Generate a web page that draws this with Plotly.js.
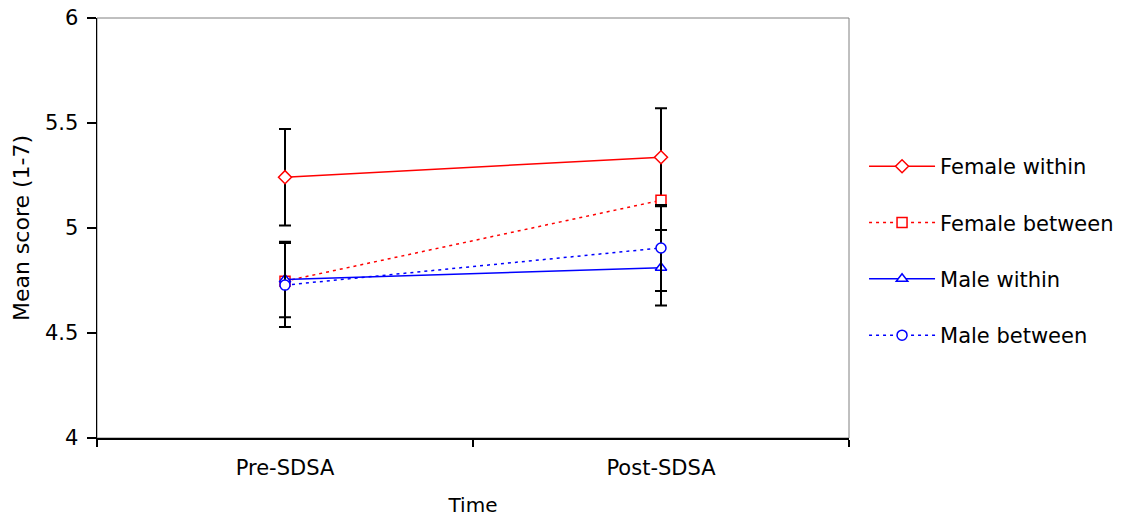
<!DOCTYPE html>
<html>
<head>
<meta charset="utf-8">
<script src="https://cdn.plot.ly/plotly-3.0.1.min.js"></script>
<style>html,body{margin:0;padding:0;background:#fff;}#chart{width:1124px;height:517px;}</style>
</head>
<body>
<div id="chart"></div>
<script>
const categories = ["Pre-SDSA", "Post-SDSA"];
const seriesNames = ["Female within", "Female between", "Male within", "Male between"];
const femaleWithin = [5.242, 5.337];
const femaleBetween = [4.747, 5.132];
const maleWithin = [4.755, 4.811];
const maleBetween = [4.728, 4.905];
const femaleWithinErr = [0.23, 0.233];
const maleWithinErr = [0.18, 0.18];
const maleBetweenErr = [0.2, 0.205];

const FONT = "DejaVu Sans, Verdana, sans-serif";

function tr(name, y, color, dash, symbol, err, group) {
  const t = {
    type: "scatter", mode: "lines+markers", name: name, x: categories, y: y,
    legendgroup: group,
    line: {color: color, width: 1.5, dash: dash},
    marker: {symbol: symbol, size: 10, color: "#ffffff", line: {color: color, width: 1.5}},
    cliponaxis: false
  };
  if (err) {
    t.error_y = {type: "data", array: err, visible: true, color: "#000000", thickness: 2, width: 6};
  }
  return t;
}

const data = [
  tr(seriesNames[0], femaleWithin, "#ff0000", "solid", "diamond", femaleWithinErr, "a"),
  tr(seriesNames[1], femaleBetween, "#ff0000", "3px,4px", "square", null, "b"),
  tr(seriesNames[2], maleWithin, "#0000ff", "solid", "triangle-up", maleWithinErr, "c"),
  tr(seriesNames[3], maleBetween, "#0000ff", "3px,4px", "circle", maleBetweenErr, "d")
];

const layout = {
  width: 1124, height: 517,
  margin: {l: 97, r: 275, t: 18, b: 79, autoexpand: false},
  paper_bgcolor: "#ffffff", plot_bgcolor: "#ffffff",
  font: {family: FONT, size: 20, color: "#000000"},
  showlegend: true,
  legend: {
    x: 1.02, xanchor: "left", y: 0.445, yanchor: "middle",
    tracegroupgap: 26, font: {family: FONT, size: 21, color: "#000000"},
    bgcolor: "rgba(0,0,0,0)", itemwidth: 66
  },
  xaxis: {
    type: "category", range: [-0.5, 1.5],
    showline: true, linecolor: "#000000", linewidth: 1.5,
    ticks: "outside", tickson: "boundaries", ticklen: 7, tickcolor: "#000000", tickwidth: 1.5,
    showgrid: false, zeroline: false, ticklabelstandoff: 10,
    tickfont: {family: FONT, size: 21},
    title: {text: "Time", font: {family: FONT, size: 20}, standoff: 30}
  },
  yaxis: {
    range: [4, 6], dtick: 0.5, tick0: 4,
    showline: true, linecolor: "#000000", linewidth: 1.5,
    ticks: "outside", ticklen: 9, tickcolor: "#000000", tickwidth: 1.5,
    showgrid: false, zeroline: false, ticklabelstandoff: 4,
    tickfont: {family: FONT, size: 21},
    title: {text: "Mean score (1-7)", font: {family: FONT, size: 22}, standoff: 9}
  },
  shapes: [
    {type: "rect", xref: "paper", yref: "paper", x0: 0, x1: 1, y0: 0, y1: 1,
     line: {color: "#808080", width: 1}, layer: "below"}
  ]
};

Plotly.newPlot("chart", data, layout, {displayModeBar: false, staticPlot: true});
</script>
</body>
</html>
